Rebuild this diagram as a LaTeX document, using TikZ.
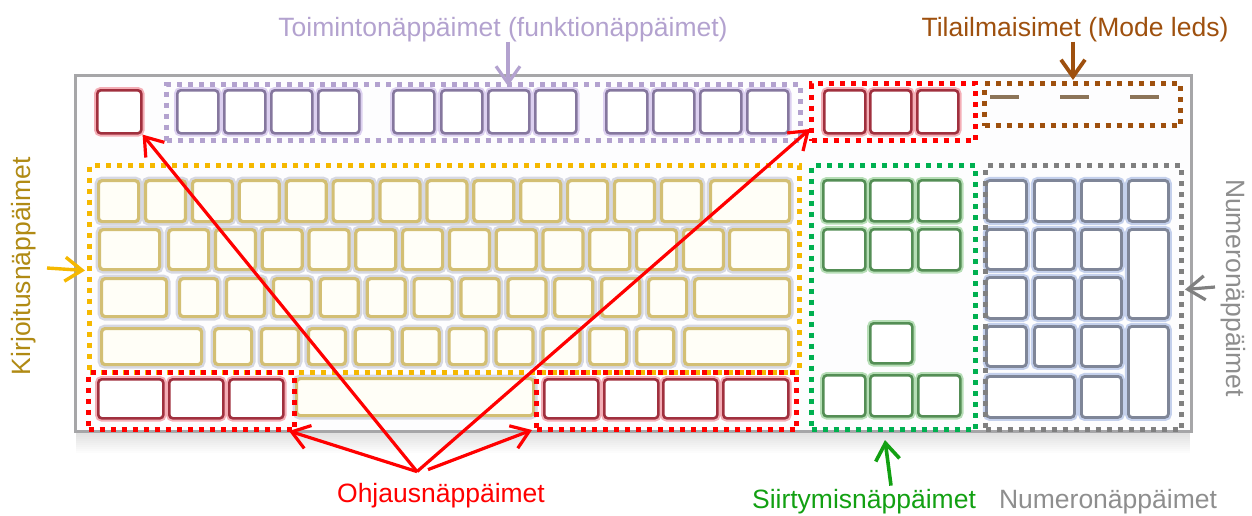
\documentclass[tikz,border=0pt]{standalone}
\usepackage{fontspec}
\setmainfont{Liberation Sans}
\usetikzlibrary{arrows.meta}

% group colours
\definecolor{fnPurple}{HTML}{B3A2CF}
\definecolor{fnKey}{HTML}{85779E}
\definecolor{fnGlow}{HTML}{DCD0F0}
\definecolor{ctRed}{HTML}{FF0000}
\definecolor{ctKey}{HTML}{A0303E}
\definecolor{ctGlow}{HTML}{F4AEB6}
\definecolor{tyDots}{HTML}{F5B800}
\definecolor{tyKey}{HTML}{D3BF74}
\definecolor{tyGlow}{HTML}{D6D8E2}
\definecolor{tyLabel}{HTML}{B08A14}
\definecolor{tyFill}{HTML}{FFFEF7}
\definecolor{nvDots}{HTML}{00B050}
\definecolor{nvKey}{HTML}{548E55}
\definecolor{nvGlow}{HTML}{B6DEB6}
\definecolor{nvLabel}{HTML}{12A012}
\definecolor{npDots}{HTML}{808080}
\definecolor{npKey}{HTML}{7F8698}
\definecolor{npGlow}{HTML}{C4D0EC}
\definecolor{npLabel}{HTML}{8E8E8E}
\definecolor{ledBrown}{HTML}{9E500E}
\definecolor{ledBar}{HTML}{8C7458}
\definecolor{bodyLine}{HTML}{A6A6A8}
\definecolor{bodyFill}{HTML}{FDFDFE}

\begin{document}
\begin{tikzpicture}[x=1pt, y=-1pt,
  lbl/.style={inner sep=0pt, font=\fontsize{26.5}{30}\selectfont},
  dotbox/.style={draw, line width=5pt, dash pattern=on 5pt off 6pt, inner sep=0pt, anchor=north west},
  keybase/.style={rounded corners=3.5pt, inner sep=0pt, anchor=north west},
  keyR/.style={keybase, draw=ctKey, line width=2.6pt, fill=white, preaction={draw=ctGlow, line width=6.5pt}},
  keyP/.style={keybase, draw=fnKey, line width=2.6pt, fill=white, preaction={draw=fnGlow, line width=6.5pt}},
  keyY/.style={keybase, draw=tyKey, line width=3.2pt, fill=tyFill, preaction={draw=tyGlow, line width=8pt}},
  keyG/.style={keybase, draw=nvKey, line width=2.6pt, fill=white, preaction={draw=nvGlow, line width=6.5pt}},
  keyN/.style={keybase, draw=npKey, line width=2.8pt, fill=white, preaction={draw=npGlow, line width=7pt}},
  pointer/.style={line width=3.2pt, -{Straight Barb[length=17pt, width=24pt]}},
]
\useasboundingbox (0,0) rectangle (1252,515);

% keyboard body with a soft shadow underneath
\foreach \h in {2,4,...,24}
  \fill[black, opacity=0.011] (76,429) rectangle (1190,429+\h);
\node[draw=bodyLine, fill=bodyFill, line width=2.5pt, inner sep=0pt, anchor=north west,
      minimum width=1116pt, minimum height=356pt] (kb) at (74,74) {};

% top row: escape, function keys, print/scroll/pause
\node[keyR, minimum width=44pt, minimum height=43pt] (esc) at (96,89) {};
\foreach \x [count=\n] in {176,223,270,317,392,440,487,534,605,652,699,746}
  \node[keyP, minimum width=41pt, minimum height=43pt] (f\n) at (\x,89) {};
\foreach \x [count=\n] in {823,869,916}
  \node[keyR, minimum width=41pt, minimum height=43pt] (pr\n) at (\x,89) {};

% mode LEDs
\foreach \x in {990,1060,1130}
  \draw[ledBar, line width=4pt] (\x,97) -- (\x+29,97);

% typing keys
\foreach \i in {0,...,12} {
  \pgfmathsetmacro\xx{97+46.9*\i}
  \node[keyY, minimum width=40pt, minimum height=41pt] (ra\i) at (\xx,179) {};
}
\node[keyY, minimum width=79pt, minimum height=41pt] (bksp) at (709,179) {};

\node[keyY, minimum width=60pt, minimum height=40pt] (tab) at (98,228) {};
\foreach \i in {0,...,11} {
  \pgfmathsetmacro\xx{167+46.8*\i}
  \node[keyY, minimum width=40pt, minimum height=40pt] (rb\i) at (\xx,228) {};
}
\node[keyY, minimum width=59pt, minimum height=40pt] (bslash) at (728,228) {};

\node[keyY, minimum width=65pt, minimum height=38pt] (caps) at (100,277) {};
\foreach \i in {0,...,10} {
  \pgfmathsetmacro\xx{178+46.9*\i}
  \node[keyY, minimum width=38pt, minimum height=38pt] (rc\i) at (\xx,277) {};
}
\node[keyY, minimum width=95pt, minimum height=38pt] (enter) at (693,277) {};

\node[keyY, minimum width=100pt, minimum height=36pt] (lshift) at (100,327) {};
\foreach \i in {0,...,9} {
  \pgfmathsetmacro\xx{213+46.9*\i}
  \node[keyY, minimum width=37pt, minimum height=36pt] (rd\i) at (\xx,327) {};
}
\node[keyY, minimum width=104pt, minimum height=36pt] (rshift) at (683,327) {};

% bottom row
\node[keyR, minimum width=65pt, minimum height=39pt] (lctrl) at (97,378) {};
\node[keyR, minimum width=54pt, minimum height=39pt] (lwin) at (168,378) {};
\node[keyR, minimum width=54pt, minimum height=39pt] (lalt) at (228,378) {};
\node[keyY, minimum width=237pt, minimum height=37pt] (space) at (295,377) {};
\node[keyR, minimum width=54pt, minimum height=39pt] (ralt) at (543,378) {};
\node[keyR, minimum width=54pt, minimum height=39pt] (rwin) at (603,378) {};
\node[keyR, minimum width=54pt, minimum height=39pt] (menu) at (662,378) {};
\node[keyR, minimum width=65pt, minimum height=39pt] (rctrl) at (722,378) {};

% navigation keys
\foreach \x [count=\n] in {822,869,917} {
  \node[keyG, minimum width=42pt, minimum height=41pt] (ins\n) at (\x,179) {};
  \node[keyG, minimum width=42pt, minimum height=41pt] (del\n) at (\x,228) {};
  \node[keyG, minimum width=42pt, minimum height=41pt] (arr\n) at (\x,374) {};
}
\node[keyG, minimum width=42pt, minimum height=40pt] (up) at (869,322) {};

% numeric keypad
\foreach \x [count=\n] in {985,1033,1080,1127}
  \node[keyN, minimum width=40pt, minimum height=41pt] (np1\n) at (\x,179) {};
\foreach \x [count=\n] in {985,1033,1080} {
  \node[keyN, minimum width=40pt, minimum height=40pt] (np2\n) at (\x,228) {};
  \node[keyN, minimum width=40pt, minimum height=41pt] (np3\n) at (\x,276) {};
  \node[keyN, minimum width=40pt, minimum height=40pt] (np4\n) at (\x,325) {};
}
\node[keyN, minimum width=40pt, minimum height=89pt] (npplus) at (1127,228) {};
\node[keyN, minimum width=40pt, minimum height=91pt] (npenter) at (1127,325) {};
\node[keyN, minimum width=88pt, minimum height=41pt] (npzero) at (985,375) {};
\node[keyN, minimum width=40pt, minimum height=41pt] (npdot) at (1080,375) {};

% dotted group frames
\node[dotbox, draw=fnPurple, minimum width=634pt, minimum height=56pt] (fnBox) at (164,82) {};
\node[dotbox, draw=ledBrown, minimum width=196pt, minimum height=42pt] (ledBox) at (982,81) {};
\node[dotbox, draw=tyDots, minimum width=710pt, minimum height=207pt] (tyBox) at (87,163) {};
\node[dotbox, draw=nvDots, minimum width=164pt, minimum height=264pt] (nvBox) at (809,163) {};
\node[dotbox, draw=npDots, minimum width=196pt, minimum height=264pt] (npBox) at (983,163) {};
\node[dotbox, draw=ctRed, minimum width=164pt, minimum height=57pt] (ctTop) at (809,81) {};
\node[dotbox, draw=ctRed, minimum width=206pt, minimum height=57pt] (ctLeft) at (86,370) {};
\node[dotbox, draw=ctRed, minimum width=260pt, minimum height=57pt] (ctRight) at (534,370) {};

% labels
\node[lbl, text=fnPurple, anchor=base] (fnLbl) at (503,36) {Toimintonäppäimet (funktionäppäimet)};
\node[lbl, text=ledBrown, anchor=base] (ledLbl) at (1075,36) {Tilailmaisimet (Mode leds)};
\node[lbl, text=tyLabel, anchor=base, rotate=90] (tyLbl) at (30,266) {Kirjoitusnäppäimet};
\node[lbl, text=npLabel, anchor=base, rotate=-90] (npSide) at (1226,288) {Numeronäppäimet};
\node[lbl, text=ctRed, anchor=base] (ctLbl) at (441,502) {Ohjausnäppäimet};
\node[lbl, text=nvLabel, anchor=base] (nvLbl) at (864,508) {Siirtymisnäppäimet};
\node[lbl, text=npLabel, anchor=base] (npLbl) at (1108,508) {Numeronäppäimet};

% pointers
\coordinate (fnTip) at (508,86);
\coordinate (ledTip) at (1073,80);
\coordinate (tyTail) at (47,268);
\coordinate (npTail) at (1215,287);
\coordinate (nvTip) at (885,440);
\coordinate (ctA) at ([shift={(-24,-11)}]ctLbl.north);
\coordinate (ctB) at ([shift={(-13,-13)}]ctLbl.north);

\draw[pointer, draw=fnPurple] (fnLbl.south -| fnTip) -- (fnTip);
\draw[pointer, draw=ledBrown, line width=3.8pt] (ledLbl.south -| ledTip) -- (ledTip);
\draw[pointer, draw=tyDots, line width=3.4pt] (tyTail) -- ([shift={(-2,1.5)}]tyBox.west);
\draw[pointer, draw=npDots] (npTail) -- ([shift={(1,-8)}]npBox.east);
\draw[pointer, draw=nvLabel, line width=3.6pt] ([shift={(27,-3)}]nvLbl.north) -- (nvTip);

\draw[pointer, draw=ctRed] (ctA) -- (esc.south east);
\draw[pointer, draw=ctRed] (ctA) -- ([shift={(1,-14)}]ctTop.south west);
\draw[pointer, draw=ctRed] (ctA) -- ([shift={(-8,-1)}]ctLeft.south east);
\draw[pointer, draw=ctRed] (ctB) -- ([shift={(-2,-2)}]ctRight.south west);
\end{tikzpicture}
\end{document}
